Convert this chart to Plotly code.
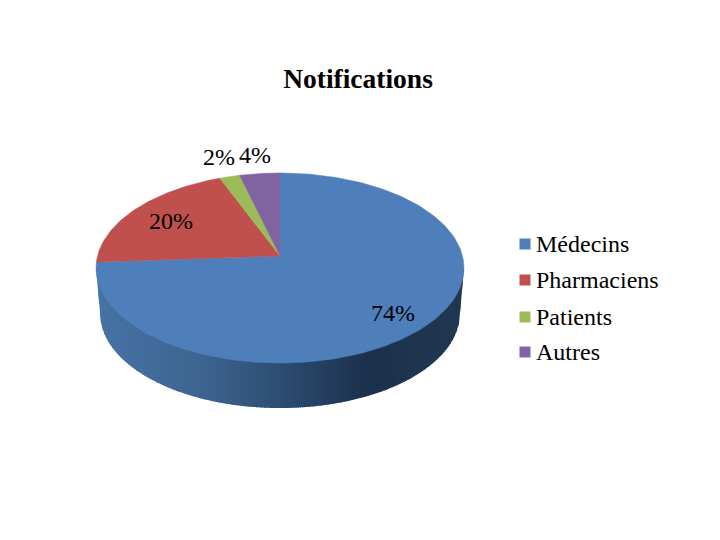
import numpy as np
import plotly.graph_objects as go

categories = ["Médecins", "Pharmaciens", "Patients", "Autres"]
shares = [74, 20, 2, 4]
slice_labels = ["74%", "20%", "2%", "4%"]
colors = ["#4f7fbb", "#bf504d", "#9bbb59", "#8064a2"]

# pie geometry in page pixels: a circle tilted in perspective, far side smaller
CX, CY = 280, 256
R_X, R_Y, TILT = 182.5, 93.5, 0.1263
WALL_DEPTH = 45
WALL_SCALE = 180 / 184

label_x = [393, 171, 219, 255]
label_y = [315, 223, 159, 157]
legend_x = 525
legend_text_x = 536
legend_y = [244, 280, 317, 352]
legend_text_y = [246, 282, 319, 354]

# side wall shading, left to right
wall_stops = [(100, (70, 115, 166)), (200, (62, 101, 145)), (280, (46, 78, 115)),
              (365, (28, 49, 77)), (460, (33, 56, 82))]


def edge(theta):
    d = 1 + TILT * np.cos(theta)
    return R_X * np.sin(theta) / d, -R_Y * np.cos(theta) / d


# lower outline of the wall, from the widest point round the front
t_front = np.linspace(np.arccos(-TILT), 2 * np.pi - np.arccos(-TILT), 300)
fx, fy = edge(t_front)
half_width = fx.max()
widest_y = CY + fy[0]
order = np.argsort(fx)
wall_xs = CX + fx[order] * WALL_SCALE
wall_ys = CY + fy[order] + WALL_DEPTH


def wall_bottom(x):
    if x < wall_xs[0]:
        return float(np.interp(x, [CX - half_width, wall_xs[0]], [widest_y, wall_ys[0]]))
    if x > wall_xs[-1]:
        return float(np.interp(x, [wall_xs[-1], CX + half_width], [wall_ys[-1], widest_y]))
    return float(np.interp(x, wall_xs, wall_ys))


def wall_color(x):
    xs = [s[0] for s in wall_stops]
    rgb = [np.interp(x, xs, [s[1][i] for s in wall_stops]) for i in range(3)]
    return "rgb(%d,%d,%d)" % tuple(rgb)


fig = go.Figure()

# side wall, thin vertical strips painted left to right to get the gradient
for x0 in np.arange(CX - half_width, CX + half_width, 2.0):
    xs = np.linspace(x0, min(x0 + 3, CX + half_width), 4)
    ys = [wall_bottom(v) for v in xs]
    col = wall_color(x0)
    fig.add_trace(go.Scatter(
        x=np.concatenate([[xs[0]], xs, [xs[-1]]]),
        y=np.concatenate([[widest_y], ys, [widest_y]]),
        mode="lines", fill="toself", fillcolor=col,
        line=dict(width=0),
        showlegend=False, hoverinfo="skip",
    ))

# top face, one slice per category going clockwise from 12 o'clock
start = 0.0
total = sum(shares)
for name, share, col in zip(categories, shares, colors):
    end = start + share / total * 2 * np.pi
    t = np.linspace(start, end, max(int(share) * 3, 8))
    x, y = edge(t)
    fig.add_trace(go.Scatter(
        x=np.concatenate([[CX], CX + x, [CX]]),
        y=np.concatenate([[CY], CY + y, [CY]]),
        mode="lines", fill="toself", fillcolor=col,
        line=dict(color=col, width=0.5),
        name=name, showlegend=False,
        hovertemplate=f"{name}: {share}%<extra></extra>",
    ))
    start = end

# slice labels
fig.add_trace(go.Scatter(
    x=label_x, y=label_y, mode="text", text=slice_labels,
    textposition="middle center",
    textfont=dict(family="Liberation Serif", size=24, color="#000000"),
    showlegend=False, hoverinfo="skip",
))

# legend
fig.add_trace(go.Scatter(
    x=[legend_x] * len(categories), y=legend_y, mode="markers",
    marker=dict(symbol="square", size=11, color=colors),
    showlegend=False, hoverinfo="skip",
))
fig.add_trace(go.Scatter(
    x=[legend_text_x] * len(categories), y=legend_text_y, mode="text",
    text=categories, textposition="middle right",
    textfont=dict(family="Liberation Serif", size=24, color="#000000"),
    showlegend=False, hoverinfo="skip",
))

fig.update_layout(
    title=dict(text="<b>Notifications</b>", x=358 / 720, y=1 - 78 / 540,
               xanchor="center", yanchor="middle",
               font=dict(family="Liberation Serif", size=27.5, color="#000000")),
    width=720, height=540,
    margin=dict(l=0, r=0, t=0, b=0),
    paper_bgcolor="white", plot_bgcolor="white",
    showlegend=False,
    xaxis=dict(range=[0, 720], visible=False, fixedrange=True),
    yaxis=dict(range=[540, 0], visible=False, fixedrange=True),
)

# the page body has a default 8px margin, drop it so pixels line up
fig.write_html("out.html", config={"displayModeBar": False},
               post_script="document.body.style.margin='0';")
